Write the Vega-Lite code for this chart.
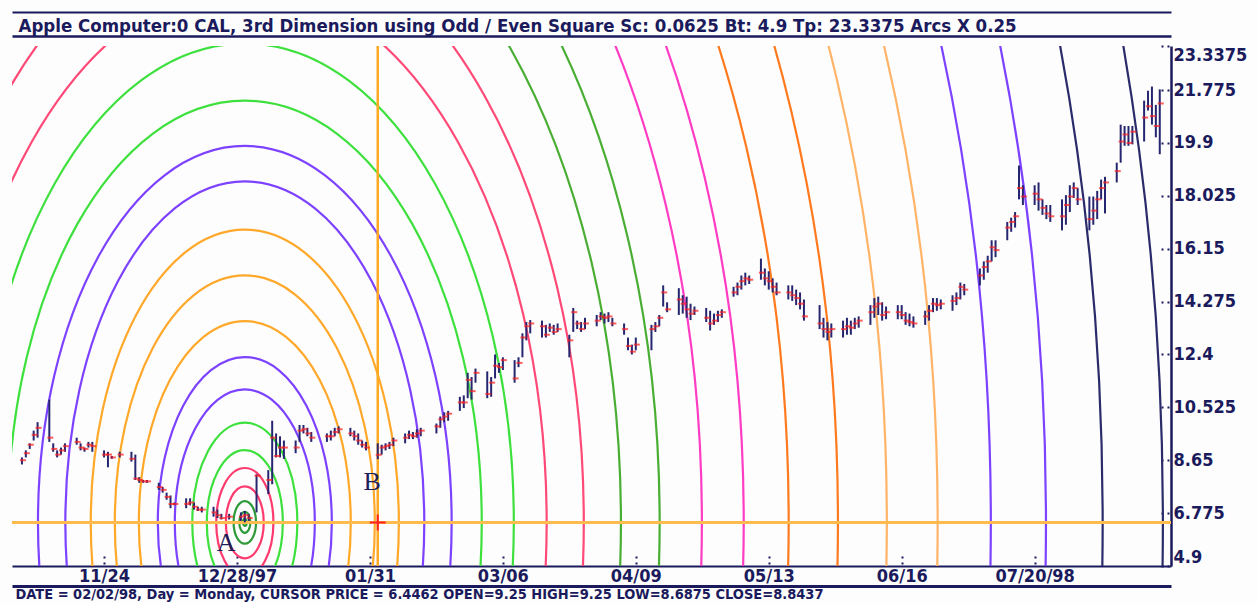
{
  "$schema": "https://vega.github.io/schema/vega-lite/v6.json",
  "width": 1159,
  "height": 520,
  "autosize": {"type": "none"},
  "padding": {"left": 12, "top": 46, "right": 87, "bottom": 37},
  "background": "#fdfdfd",
  "config": {"view": {"stroke": null}},
  "resolve": {"axis": {"x": "independent", "y": "independent"}},
  "datasets": {
    "arcs": [
      {"k": 1, "r": 0.47, "g": "dg", "d": "1997-12-30", "p": 6.4462},
      {"k": 2, "r": 1.41, "g": "dg", "d": "1997-12-30", "p": 6.4462},
      {"k": 3, "r": 2.87, "g": "dg", "d": "1997-12-30", "p": 6.4462},
      {"k": 4, "r": 4.84, "g": "pk", "d": "1997-12-30", "p": 6.4462},
      {"k": 5, "r": 7.32, "g": "pk", "d": "1997-12-30", "p": 6.4462},
      {"k": 6, "r": 9.72, "g": "gr", "d": "1997-12-30", "p": 6.4462},
      {"k": 7, "r": 13.43, "g": "gr", "d": "1997-12-30", "p": 6.4462},
      {"k": 8, "r": 17.9, "g": "pu", "d": "1997-12-30", "p": 6.4462},
      {"k": 9, "r": 22.25, "g": "pu", "d": "1997-12-30", "p": 6.4462},
      {"k": 10, "r": 27.1, "g": "or", "d": "1997-12-30", "p": 6.4462},
      {"k": 11, "r": 33.25, "g": "or", "d": "1997-12-30", "p": 6.4462},
      {"k": 12, "r": 39.4, "g": "or", "d": "1997-12-30", "p": 6.4462},
      {"k": 13, "r": 45.9, "g": "pu", "d": "1997-12-30", "p": 6.4462},
      {"k": 14, "r": 52.9, "g": "pu", "d": "1997-12-30", "p": 6.4462},
      {"k": 15, "r": 60.6, "g": "gr", "d": "1997-12-30", "p": 6.4462},
      {"k": 16, "r": 68.8, "g": "gr", "d": "1997-12-30", "p": 6.4462},
      {"k": 17, "r": 77.2, "g": "rd", "d": "1997-12-30", "p": 6.4462},
      {"k": 18, "r": 86.7, "g": "rd", "d": "1997-12-30", "p": 6.4462},
      {"k": 19, "r": 96.2, "g": "dg2", "d": "1997-12-30", "p": 6.4462},
      {"k": 20, "r": 106.1, "g": "dg2", "d": "1997-12-30", "p": 6.4462},
      {"k": 21, "r": 116.9, "g": "mg", "d": "1997-12-30", "p": 6.4462},
      {"k": 22, "r": 127.6, "g": "mg", "d": "1997-12-30", "p": 6.4462},
      {"k": 23, "r": 139.1, "g": "or2", "d": "1997-12-30", "p": 6.4462},
      {"k": 24, "r": 151.7, "g": "or2", "d": "1997-12-30", "p": 6.4462},
      {"k": 25, "r": 164.2, "g": "lo", "d": "1997-12-30", "p": 6.4462},
      {"k": 26, "r": 177.2, "g": "lo", "d": "1997-12-30", "p": 6.4462},
      {"k": 27, "r": 190.8, "g": "pu", "d": "1997-12-30", "p": 6.4462},
      {"k": 28, "r": 204.9, "g": "pu", "d": "1997-12-30", "p": 6.4462},
      {"k": 29, "r": 219.4, "g": "nv", "d": "1997-12-30", "p": 6.4462},
      {"k": 30, "r": 234.8, "g": "nv", "d": "1997-12-30", "p": 6.4462}
    ],
    "cursor": [{"d": "1998-02-02", "p": 6.4462}],
    "notes": [
      {"d": "1997-12-25T05:00:00Z", "p": 5.72, "t": "A"},
      {"d": "1998-01-31T13:00:00Z", "p": 7.88, "t": "B"}
    ],
    "bars": [
      {"d": "1997-11-03", "h": 8.75, "l": 8.5, "c": 8.65},
      {"d": "1997-11-04", "h": 9.0, "l": 8.75, "c": 8.9},
      {"d": "1997-11-05", "h": 9.25, "l": 9.05, "c": 9.2},
      {"d": "1997-11-06", "h": 9.7, "l": 9.35, "c": 9.55},
      {"d": "1997-11-07", "h": 10.0, "l": 9.45, "c": 9.8},
      {"d": "1997-11-10", "h": 10.8, "l": 9.3, "c": 9.45},
      {"d": "1997-11-11", "h": 9.25, "l": 8.95, "c": 9.05},
      {"d": "1997-11-12", "h": 9.0, "l": 8.75, "c": 8.85},
      {"d": "1997-11-13", "h": 9.1, "l": 8.85, "c": 9.0},
      {"d": "1997-11-14", "h": 9.25, "l": 8.95, "c": 9.15},
      {"d": "1997-11-17", "h": 9.45, "l": 9.2, "c": 9.3},
      {"d": "1997-11-18", "h": 9.25, "l": 9.0, "c": 9.1},
      {"d": "1997-11-19", "h": 9.1, "l": 8.95, "c": 9.05},
      {"d": "1997-11-20", "h": 9.3, "l": 9.1, "c": 9.2},
      {"d": "1997-11-21", "h": 9.3, "l": 8.95, "c": 9.15},
      {"d": "1997-11-24", "h": 9.0, "l": 8.75, "c": 8.85},
      {"d": "1997-11-25", "h": 8.95, "l": 8.4, "c": 8.85},
      {"d": "1997-11-26", "h": 8.8, "l": 8.7, "c": 8.75},
      {"d": "1997-11-28", "h": 8.95, "l": 8.75, "c": 8.85},
      {"d": "1997-12-01", "h": 8.95, "l": 8.6, "c": 8.7},
      {"d": "1997-12-02", "h": 8.85, "l": 7.95, "c": 8.0},
      {"d": "1997-12-03", "h": 8.05, "l": 7.85, "c": 7.95},
      {"d": "1997-12-04", "h": 7.95, "l": 7.85, "c": 7.9},
      {"d": "1997-12-05", "h": 7.95, "l": 7.85, "c": 7.9},
      {"d": "1997-12-08", "h": 7.85, "l": 7.6, "c": 7.7},
      {"d": "1997-12-09", "h": 7.7, "l": 7.5, "c": 7.6},
      {"d": "1997-12-10", "h": 7.5, "l": 7.25, "c": 7.35},
      {"d": "1997-12-11", "h": 7.4, "l": 6.95, "c": 7.1},
      {"d": "1997-12-12", "h": 7.15, "l": 7.05, "c": 7.1},
      {"d": "1997-12-15", "h": 7.3, "l": 6.95, "c": 7.1},
      {"d": "1997-12-16", "h": 7.3, "l": 7.05, "c": 7.15},
      {"d": "1997-12-17", "h": 7.15, "l": 6.9, "c": 7.0},
      {"d": "1997-12-18", "h": 7.0, "l": 6.85, "c": 6.9},
      {"d": "1997-12-19", "h": 7.0, "l": 6.8, "c": 6.9},
      {"d": "1997-12-22", "h": 7.0, "l": 6.65, "c": 6.8},
      {"d": "1997-12-23", "h": 6.9, "l": 6.6, "c": 6.7},
      {"d": "1997-12-24", "h": 6.75, "l": 6.55, "c": 6.6},
      {"d": "1997-12-26", "h": 6.75, "l": 6.55, "c": 6.65},
      {"d": "1997-12-29", "h": 6.8, "l": 6.5, "c": 6.65},
      {"d": "1997-12-30", "h": 6.85, "l": 6.45, "c": 6.7},
      {"d": "1997-12-31", "h": 6.75, "l": 6.5, "c": 6.6},
      {"d": "1998-01-02", "h": 8.15, "l": 6.8, "c": 8.1},
      {"d": "1998-01-05", "h": 8.3, "l": 7.45, "c": 7.95},
      {"d": "1998-01-06", "h": 10.05, "l": 7.8, "c": 9.45},
      {"d": "1998-01-07", "h": 9.6, "l": 8.75, "c": 8.8},
      {"d": "1998-01-08", "h": 9.5, "l": 8.75, "c": 9.1},
      {"d": "1998-01-09", "h": 9.35, "l": 8.7, "c": 9.1},
      {"d": "1998-01-12", "h": 9.35, "l": 8.9, "c": 9.1},
      {"d": "1998-01-13", "h": 9.9, "l": 9.3, "c": 9.7},
      {"d": "1998-01-14", "h": 9.9, "l": 9.6, "c": 9.75},
      {"d": "1998-01-15", "h": 9.8, "l": 9.5, "c": 9.6},
      {"d": "1998-01-16", "h": 9.65, "l": 9.3, "c": 9.45},
      {"d": "1998-01-20", "h": 9.6, "l": 9.3, "c": 9.5},
      {"d": "1998-01-21", "h": 9.7, "l": 9.35, "c": 9.5},
      {"d": "1998-01-22", "h": 9.8, "l": 9.5, "c": 9.65},
      {"d": "1998-01-23", "h": 9.85, "l": 9.6, "c": 9.75},
      {"d": "1998-01-26", "h": 9.8, "l": 9.5, "c": 9.6},
      {"d": "1998-01-27", "h": 9.7, "l": 9.35, "c": 9.5},
      {"d": "1998-01-28", "h": 9.6, "l": 9.2, "c": 9.35},
      {"d": "1998-01-29", "h": 9.35, "l": 9.1, "c": 9.2},
      {"d": "1998-01-30", "h": 9.3, "l": 9.0, "c": 9.1},
      {"d": "1998-02-02", "h": 9.25, "l": 8.6875, "c": 8.8437},
      {"d": "1998-02-03", "h": 9.2, "l": 8.85, "c": 9.1},
      {"d": "1998-02-04", "h": 9.25, "l": 9.0, "c": 9.15},
      {"d": "1998-02-05", "h": 9.3, "l": 9.05, "c": 9.2},
      {"d": "1998-02-06", "h": 9.45, "l": 9.15, "c": 9.35},
      {"d": "1998-02-09", "h": 9.6, "l": 9.25, "c": 9.45},
      {"d": "1998-02-10", "h": 9.7, "l": 9.4, "c": 9.55},
      {"d": "1998-02-11", "h": 9.65, "l": 9.4, "c": 9.5},
      {"d": "1998-02-12", "h": 9.75, "l": 9.45, "c": 9.6},
      {"d": "1998-02-13", "h": 9.8, "l": 9.5, "c": 9.7},
      {"d": "1998-02-17", "h": 9.95, "l": 9.6, "c": 9.85},
      {"d": "1998-02-18", "h": 10.2, "l": 9.8, "c": 10.1},
      {"d": "1998-02-19", "h": 10.35, "l": 10.0, "c": 10.2},
      {"d": "1998-02-20", "h": 10.4, "l": 10.05, "c": 10.3},
      {"d": "1998-02-23", "h": 10.9, "l": 10.4, "c": 10.7},
      {"d": "1998-02-24", "h": 10.95, "l": 10.5, "c": 10.7},
      {"d": "1998-02-25", "h": 11.75, "l": 10.85, "c": 11.5},
      {"d": "1998-02-26", "h": 11.6, "l": 10.8, "c": 11.1},
      {"d": "1998-02-27", "h": 11.9, "l": 11.4, "c": 11.75},
      {"d": "1998-03-02", "h": 11.8, "l": 10.85, "c": 11.0},
      {"d": "1998-03-03", "h": 11.6, "l": 10.9, "c": 11.4},
      {"d": "1998-03-04", "h": 12.4, "l": 11.55, "c": 12.0},
      {"d": "1998-03-05", "h": 12.1, "l": 11.75, "c": 11.95},
      {"d": "1998-03-06", "h": 12.3, "l": 11.85, "c": 12.2},
      {"d": "1998-03-09", "h": 12.2, "l": 11.4, "c": 11.55},
      {"d": "1998-03-10", "h": 12.3, "l": 11.95, "c": 12.1},
      {"d": "1998-03-11", "h": 13.15, "l": 12.3, "c": 13.0},
      {"d": "1998-03-12", "h": 13.55, "l": 12.9, "c": 13.4},
      {"d": "1998-03-13", "h": 13.62, "l": 13.15, "c": 13.5},
      {"d": "1998-03-16", "h": 13.6, "l": 13.0, "c": 13.4},
      {"d": "1998-03-17", "h": 13.45, "l": 13.0, "c": 13.1},
      {"d": "1998-03-18", "h": 13.5, "l": 13.2, "c": 13.35},
      {"d": "1998-03-19", "h": 13.45, "l": 13.1, "c": 13.2},
      {"d": "1998-03-20", "h": 13.5, "l": 13.2, "c": 13.3},
      {"d": "1998-03-23", "h": 13.1, "l": 12.3, "c": 12.9},
      {"d": "1998-03-24", "h": 14.05, "l": 13.2, "c": 13.9},
      {"d": "1998-03-25", "h": 13.6, "l": 13.3, "c": 13.5},
      {"d": "1998-03-26", "h": 13.55, "l": 13.2, "c": 13.3},
      {"d": "1998-03-27", "h": 13.7, "l": 13.3, "c": 13.5},
      {"d": "1998-03-30", "h": 13.8, "l": 13.4, "c": 13.6},
      {"d": "1998-03-31", "h": 13.9, "l": 13.62, "c": 13.75},
      {"d": "1998-04-01", "h": 13.85, "l": 13.5, "c": 13.7},
      {"d": "1998-04-02", "h": 13.9, "l": 13.55, "c": 13.75},
      {"d": "1998-04-03", "h": 13.7, "l": 13.4, "c": 13.5},
      {"d": "1998-04-06", "h": 13.5, "l": 13.1, "c": 13.3},
      {"d": "1998-04-07", "h": 13.0, "l": 12.55, "c": 12.7},
      {"d": "1998-04-08", "h": 12.75, "l": 12.4, "c": 12.5},
      {"d": "1998-04-09", "h": 13.0, "l": 12.55, "c": 12.75},
      {"d": "1998-04-13", "h": 13.45, "l": 12.55, "c": 13.3},
      {"d": "1998-04-14", "h": 13.55, "l": 13.2, "c": 13.4},
      {"d": "1998-04-15", "h": 13.8, "l": 13.4, "c": 13.7},
      {"d": "1998-04-16", "h": 14.85, "l": 14.1, "c": 14.6},
      {"d": "1998-04-17", "h": 14.25, "l": 13.9, "c": 14.0},
      {"d": "1998-04-20", "h": 14.75, "l": 13.8, "c": 14.35},
      {"d": "1998-04-21", "h": 14.5, "l": 13.85, "c": 14.2},
      {"d": "1998-04-22", "h": 14.45, "l": 13.7, "c": 14.0},
      {"d": "1998-04-23", "h": 14.2, "l": 13.62, "c": 13.85},
      {"d": "1998-04-24", "h": 14.1, "l": 13.8, "c": 13.95},
      {"d": "1998-04-27", "h": 14.05, "l": 13.55, "c": 13.7},
      {"d": "1998-04-28", "h": 13.95, "l": 13.25, "c": 13.5},
      {"d": "1998-04-29", "h": 13.85, "l": 13.45, "c": 13.6},
      {"d": "1998-04-30", "h": 13.95, "l": 13.55, "c": 13.8},
      {"d": "1998-05-01", "h": 14.0, "l": 13.7, "c": 13.9},
      {"d": "1998-05-04", "h": 14.8, "l": 14.45, "c": 14.6},
      {"d": "1998-05-05", "h": 14.95, "l": 14.5, "c": 14.8},
      {"d": "1998-05-06", "h": 15.2, "l": 14.7, "c": 15.0},
      {"d": "1998-05-07", "h": 15.3, "l": 14.85, "c": 15.1},
      {"d": "1998-05-08", "h": 15.2, "l": 14.9, "c": 15.05},
      {"d": "1998-05-11", "h": 15.8, "l": 15.05, "c": 15.3},
      {"d": "1998-05-12", "h": 15.45, "l": 14.85, "c": 15.1},
      {"d": "1998-05-13", "h": 15.35, "l": 14.7, "c": 15.0},
      {"d": "1998-05-14", "h": 15.1, "l": 14.6, "c": 14.8},
      {"d": "1998-05-15", "h": 14.95, "l": 14.5, "c": 14.6},
      {"d": "1998-05-18", "h": 14.85, "l": 14.35, "c": 14.6},
      {"d": "1998-05-19", "h": 14.85, "l": 14.3, "c": 14.5},
      {"d": "1998-05-20", "h": 14.7, "l": 14.15, "c": 14.4},
      {"d": "1998-05-21", "h": 14.6, "l": 14.0, "c": 14.2},
      {"d": "1998-05-22", "h": 14.35, "l": 13.6, "c": 13.75},
      {"d": "1998-05-26", "h": 14.15, "l": 13.3, "c": 13.5},
      {"d": "1998-05-27", "h": 13.7, "l": 13.0, "c": 13.3},
      {"d": "1998-05-28", "h": 13.55, "l": 12.9, "c": 13.2},
      {"d": "1998-05-29", "h": 13.5, "l": 13.0, "c": 13.3},
      {"d": "1998-06-01", "h": 13.6, "l": 13.0, "c": 13.3},
      {"d": "1998-06-02", "h": 13.7, "l": 13.1, "c": 13.4},
      {"d": "1998-06-03", "h": 13.6, "l": 13.1, "c": 13.35},
      {"d": "1998-06-04", "h": 13.7, "l": 13.3, "c": 13.5},
      {"d": "1998-06-05", "h": 13.75, "l": 13.35, "c": 13.6},
      {"d": "1998-06-08", "h": 14.15, "l": 13.45, "c": 13.9},
      {"d": "1998-06-09", "h": 14.4, "l": 13.7, "c": 14.1},
      {"d": "1998-06-10", "h": 14.45, "l": 13.8, "c": 14.2},
      {"d": "1998-06-11", "h": 14.25, "l": 13.6, "c": 13.8},
      {"d": "1998-06-12", "h": 14.1, "l": 13.65, "c": 13.9},
      {"d": "1998-06-15", "h": 14.15, "l": 13.65, "c": 13.9},
      {"d": "1998-06-16", "h": 14.15, "l": 13.65, "c": 13.8},
      {"d": "1998-06-17", "h": 13.9, "l": 13.45, "c": 13.6},
      {"d": "1998-06-18", "h": 13.85, "l": 13.4, "c": 13.55},
      {"d": "1998-06-19", "h": 13.75, "l": 13.35, "c": 13.5},
      {"d": "1998-06-22", "h": 13.95, "l": 13.45, "c": 13.75},
      {"d": "1998-06-23", "h": 14.15, "l": 13.6, "c": 13.95},
      {"d": "1998-06-24", "h": 14.4, "l": 13.9, "c": 14.2},
      {"d": "1998-06-25", "h": 14.4, "l": 13.95, "c": 14.15},
      {"d": "1998-06-26", "h": 14.35, "l": 14.0, "c": 14.2},
      {"d": "1998-06-29", "h": 14.5, "l": 13.95, "c": 14.3},
      {"d": "1998-06-30", "h": 14.6, "l": 14.15, "c": 14.4},
      {"d": "1998-07-01", "h": 14.95, "l": 14.35, "c": 14.8},
      {"d": "1998-07-02", "h": 14.9, "l": 14.5, "c": 14.7},
      {"d": "1998-07-06", "h": 15.45, "l": 14.85, "c": 15.2},
      {"d": "1998-07-07", "h": 15.7, "l": 15.05, "c": 15.5},
      {"d": "1998-07-08", "h": 15.9, "l": 15.3, "c": 15.7},
      {"d": "1998-07-09", "h": 16.45, "l": 15.7, "c": 16.2},
      {"d": "1998-07-10", "h": 16.45, "l": 15.85, "c": 16.1},
      {"d": "1998-07-13", "h": 17.1, "l": 16.45, "c": 16.9},
      {"d": "1998-07-14", "h": 17.25, "l": 16.75, "c": 17.1},
      {"d": "1998-07-15", "h": 17.45, "l": 16.9, "c": 17.3},
      {"d": "1998-07-16", "h": 19.1, "l": 17.9, "c": 18.3},
      {"d": "1998-07-17", "h": 18.4, "l": 17.7, "c": 18.0},
      {"d": "1998-07-20", "h": 18.4, "l": 17.7, "c": 18.1},
      {"d": "1998-07-21", "h": 18.5, "l": 17.5, "c": 17.9},
      {"d": "1998-07-22", "h": 17.9, "l": 17.35, "c": 17.6},
      {"d": "1998-07-23", "h": 17.7, "l": 17.2, "c": 17.4},
      {"d": "1998-07-24", "h": 17.7, "l": 17.1, "c": 17.3},
      {"d": "1998-07-27", "h": 17.9, "l": 16.8, "c": 17.3},
      {"d": "1998-07-28", "h": 18.05, "l": 17.0, "c": 17.7},
      {"d": "1998-07-29", "h": 18.4, "l": 17.45, "c": 18.0},
      {"d": "1998-07-30", "h": 18.5, "l": 17.95, "c": 18.3},
      {"d": "1998-07-31", "h": 18.3, "l": 17.7, "c": 17.9},
      {"d": "1998-08-03", "h": 18.0, "l": 16.8, "c": 17.2},
      {"d": "1998-08-04", "h": 18.0, "l": 17.0, "c": 17.5},
      {"d": "1998-08-05", "h": 18.2, "l": 17.2, "c": 17.9},
      {"d": "1998-08-06", "h": 18.6, "l": 17.9, "c": 18.3},
      {"d": "1998-08-07", "h": 18.7, "l": 17.4, "c": 18.5},
      {"d": "1998-08-10", "h": 19.2, "l": 18.5, "c": 18.9},
      {"d": "1998-08-11", "h": 20.55, "l": 19.2, "c": 19.95},
      {"d": "1998-08-12", "h": 20.5, "l": 19.8, "c": 20.2},
      {"d": "1998-08-13", "h": 20.5, "l": 19.8, "c": 19.9},
      {"d": "1998-08-14", "h": 20.5, "l": 19.85, "c": 20.3},
      {"d": "1998-08-17", "h": 21.4, "l": 19.95, "c": 20.8},
      {"d": "1998-08-18", "h": 21.75, "l": 21.05, "c": 21.2},
      {"d": "1998-08-19", "h": 21.9, "l": 20.55, "c": 20.85},
      {"d": "1998-08-20", "h": 21.25, "l": 20.1, "c": 20.5},
      {"d": "1998-08-21", "h": 21.8, "l": 19.5, "c": 21.3}
    ]
  },
  "layer": [
    {
      "data": {"name": "arcs"},
      "mark": {
        "type": "point",
        "filled": false,
        "strokeWidth": 2.2,
        "opacity": 1,
        "clip": true
      },
      "encoding": {
        "x": {
          "field": "d", "type": "temporal", "axis": null,
          "scale": {
            "type": "utc",
            "domain": [
              {"year": 1997, "month": 10, "date": 31, "hours": 11, "utc": true},
              {"year": 1998, "month": 8, "date": 23, "hours": 21, "utc": true}
            ]
          }
        },
        "y": {
          "field": "p", "type": "quantitative", "axis": null,
          "scale": {"domain": [4.9, 23.3375], "zero": false, "nice": false}
        },
        "size": {
          "field": "r", "type": "quantitative", "legend": null,
          "scale": {"type": "pow", "exponent": 2, "domain": [0, 250], "range": [0, 3822063]}
        },
        "shape": {
          "field": "k", "type": "ordinal", "legend": null,
          "scale": {
            "domain": [1, 2, 3, 4, 5, 6, 7, 8, 9, 10, 11, 12, 13, 14, 15, 16, 17, 18, 19, 20, 21, 22, 23, 24, 25, 26, 27, 28, 29, 30],
            "range": [
              "M -1 0 C -1 -1.0494 -0.5523 -1.9 0 -1.9 C 0.5523 -1.9 1 -1.0494 1 0 C 1 1.0494 0.5523 1.9 0 1.9 C -0.5523 1.9 -1 1.0494 -1 0 Z",
              "M -1 0 C -1 -1.0494 -0.5523 -1.9 0 -1.9 C 0.5523 -1.9 1 -1.0494 1 0 C 1 1.0494 0.5523 1.9 0 1.9 C -0.5523 1.9 -1 1.0494 -1 0 Z",
              "M -1 0 C -1 -1.0494 -0.5523 -1.9 0 -1.9 C 0.5523 -1.9 1 -1.0494 1 0 C 1 1.0494 0.5523 1.9 0 1.9 C -0.5523 1.9 -1 1.0494 -1 0 Z",
              "M -1 0 C -1 -1.0494 -0.5523 -1.9 0 -1.9 C 0.5523 -1.9 1 -1.0494 1 0 C 1 1.0494 0.5523 1.9 0 1.9 C -0.5523 1.9 -1 1.0494 -1 0 Z",
              "M -1 0 C -1 -1.0494 -0.5523 -1.9 0 -1.9 C 0.5523 -1.9 1 -1.0494 1 0 C 1 1.0494 0.5523 1.9 0 1.9 C -0.5523 1.9 -1 1.0494 -1 0 Z",
              "M -1 0 C -1 -1.0494 -0.5523 -1.9 0 -1.9 C 0.5523 -1.9 1 -1.0494 1 0 C 1 1.0494 0.5523 1.9 0 1.9 C -0.5523 1.9 -1 1.0494 -1 0 Z",
              "M -1 0 C -1 -1.0494 -0.5523 -1.9 0 -1.9 C 0.5523 -1.9 1 -1.0494 1 0 C 1 1.0494 0.5523 1.9 0 1.9 C -0.5523 1.9 -1 1.0494 -1 0 Z",
              "M -1 0 C -1 -1.0494 -0.5523 -1.9 0 -1.9 C 0.5523 -1.9 1 -1.0494 1 0 C 1 1.0494 0.5523 1.9 0 1.9 C -0.5523 1.9 -1 1.0494 -1 0 Z",
              "M -1 0 C -1 -1.0494 -0.5523 -1.9 0 -1.9 C 0.5523 -1.9 1 -1.0494 1 0 C 1 1.0494 0.5523 1.9 0 1.9 C -0.5523 1.9 -1 1.0494 -1 0 Z",
              "M -1 0 C -1 -1.0494 -0.5523 -1.9 0 -1.9 C 0.5523 -1.9 1 -1.0494 1 0 C 1 1.0494 0.5523 1.9 0 1.9 C -0.5523 1.9 -1 1.0494 -1 0 Z",
              "M -1 0 C -1 -1.0494 -0.5523 -1.9 0 -1.9 C 0.5523 -1.9 1 -1.0494 1 0 C 1 1.0494 0.5523 1.9 0 1.9 C -0.5523 1.9 -1 1.0494 -1 0 Z",
              "M -1 0 C -1 -1.0494 -0.5523 -1.9 0 -1.9 C 0.5523 -1.9 1 -1.0494 1 0 C 1 1.0494 0.5523 1.9 0 1.9 C -0.5523 1.9 -1 1.0494 -1 0 Z",
              "M -1 0 C -1 -1.0494 -0.5523 -1.9 0 -1.9 C 0.5523 -1.9 1 -1.0494 1 0 C 1 1.0494 0.5523 1.9 0 1.9 C -0.5523 1.9 -1 1.0494 -1 0 Z",
              "M -1 0 C -1 -1.0052 -0.5523 -1.82 0 -1.82 C 0.5523 -1.82 1 -1.0052 1 0 C 1 1.0052 0.5523 1.82 0 1.82 C -0.5523 1.82 -1 1.0052 -1 0 Z",
              "M -1 0 C -1 -0.9831 -0.5523 -1.78 0 -1.78 C 0.5523 -1.78 1 -0.9831 1 0 C 1 0.9831 0.5523 1.78 0 1.78 C -0.5523 1.78 -1 0.9831 -1 0 Z",
              "M -1 0 C -1 -0.9831 -0.5523 -1.78 0 -1.78 C 0.5523 -1.78 1 -0.9831 1 0 C 1 0.9831 0.5523 1.78 0 1.78 C -0.5523 1.78 -1 0.9831 -1 0 Z",
              "M -1 0 C -1 -0.9831 -0.5523 -1.78 0 -1.78 C 0.5523 -1.78 1 -0.9831 1 0 C 1 0.9831 0.5523 1.78 0 1.78 C -0.5523 1.78 -1 0.9831 -1 0 Z",
              "M -1 0 C -1 -0.9831 -0.5523 -1.78 0 -1.78 C 0.5523 -1.78 1 -0.9831 1 0 C 1 0.9831 0.5523 1.78 0 1.78 C -0.5523 1.78 -1 0.9831 -1 0 Z",
              "M -1 0 C -1 -0.9831 -0.5523 -1.78 0 -1.78 C 0.5523 -1.78 1 -0.9831 1 0 C 1 0.9831 0.5523 1.78 0 1.78 C -0.5523 1.78 -1 0.9831 -1 0 Z",
              "M -1 0 C -1 -0.9831 -0.5523 -1.78 0 -1.78 C 0.5523 -1.78 1 -0.9831 1 0 C 1 0.9831 0.5523 1.78 0 1.78 C -0.5523 1.78 -1 0.9831 -1 0 Z",
              "M -1 0 C -1 -0.9831 -0.5523 -1.78 0 -1.78 C 0.5523 -1.78 1 -0.9831 1 0 C 1 0.9831 0.5523 1.78 0 1.78 C -0.5523 1.78 -1 0.9831 -1 0 Z",
              "M -1 0 C -1 -0.9831 -0.5523 -1.78 0 -1.78 C 0.5523 -1.78 1 -0.9831 1 0 C 1 0.9831 0.5523 1.78 0 1.78 C -0.5523 1.78 -1 0.9831 -1 0 Z",
              "M -1 0 C -1 -0.9831 -0.5523 -1.78 0 -1.78 C 0.5523 -1.78 1 -0.9831 1 0 C 1 0.9831 0.5523 1.78 0 1.78 C -0.5523 1.78 -1 0.9831 -1 0 Z",
              "M -1 0 C -1 -0.9831 -0.5523 -1.78 0 -1.78 C 0.5523 -1.78 1 -0.9831 1 0 C 1 0.9831 0.5523 1.78 0 1.78 C -0.5523 1.78 -1 0.9831 -1 0 Z",
              "M -1 0 C -1 -0.9831 -0.5523 -1.78 0 -1.78 C 0.5523 -1.78 1 -0.9831 1 0 C 1 0.9831 0.5523 1.78 0 1.78 C -0.5523 1.78 -1 0.9831 -1 0 Z",
              "M -1 0 C -1 -0.9831 -0.5523 -1.78 0 -1.78 C 0.5523 -1.78 1 -0.9831 1 0 C 1 0.9831 0.5523 1.78 0 1.78 C -0.5523 1.78 -1 0.9831 -1 0 Z",
              "M -1 0 C -1 -0.9831 -0.5523 -1.78 0 -1.78 C 0.5523 -1.78 1 -0.9831 1 0 C 1 0.9831 0.5523 1.78 0 1.78 C -0.5523 1.78 -1 0.9831 -1 0 Z",
              "M -1 0 C -1 -0.9831 -0.5523 -1.78 0 -1.78 C 0.5523 -1.78 1 -0.9831 1 0 C 1 0.9831 0.5523 1.78 0 1.78 C -0.5523 1.78 -1 0.9831 -1 0 Z",
              "M -1 0 C -1 -0.9831 -0.5523 -1.78 0 -1.78 C 0.5523 -1.78 1 -0.9831 1 0 C 1 0.9831 0.5523 1.78 0 1.78 C -0.5523 1.78 -1 0.9831 -1 0 Z",
              "M -1 0 C -1 -0.9831 -0.5523 -1.78 0 -1.78 C 0.5523 -1.78 1 -0.9831 1 0 C 1 0.9831 0.5523 1.78 0 1.78 C -0.5523 1.78 -1 0.9831 -1 0 Z"
            ]
          }
        },
        "color": {
          "field": "g", "type": "nominal", "legend": null,
          "scale": {
            "domain": ["dg", "pk", "gr", "pu", "or", "rd", "dg2", "mg", "or2", "lo", "nv"],
            "range": ["#2f9a3a", "#ff3a6e", "#3ee03e", "#7d42ff", "#ffa82a", "#ff4a78", "#4aae34", "#ff3cc4", "#ff7a1e", "#ffb468", "#2b2b6b"]
          }
        }
      }
    },
    {
      "data": {"name": "cursor"},
      "mark": {"type": "rule", "color": "#ffbb4d", "strokeWidth": 3},
      "encoding": {
        "y": {
          "field": "p", "type": "quantitative",
          "axis": {
            "orient": "right",
            "values": [4.9, 6.775, 8.65, 10.525, 12.4, 14.275, 16.15, 18.025, 19.9, 21.775, 23.3375],
            "format": ".6~f",
            "labelOverlap": false, "labelFlush": true, "labelBound": false,
            "labelFont": "DejaVu Sans Condensed", "labelFontWeight": "bold", "labelFontSize": 18,
            "labelColor": "#1a1a5c", "labelPadding": 14,
            "tickSize": -12, "tickColor": "#1a1a5c", "tickWidth": 2, "tickDash": [2, 4], "tickDashOffset": 4,
            "domainColor": "#1a1a5c", "domainWidth": 2.5, "grid": false, "title": null
          }
        }
      }
    },
    {
      "data": {"name": "cursor"},
      "mark": {"type": "rule", "color": "#ffaa22", "strokeWidth": 2.5},
      "encoding": {
        "x": {
          "field": "d", "type": "temporal",
          "axis": {
            "orient": "top", "offset": 10, "labels": false, "ticks": false, "grid": false,
            "domainColor": "#1a1a5c", "domainWidth": 2.5,
            "title": "Apple Computer:0 CAL, 3rd Dimension using Odd / Even Square Sc: 0.0625 Bt: 4.9 Tp: 23.3375 Arcs X 0.25",
            "titleAnchor": "start", "titleAlign": "left", "titleX": 6, "titlePadding": 1,
            "titleFont": "DejaVu Sans Condensed", "titleFontWeight": "bold", "titleFontSize": 18.5,
            "titleColor": "#1a1a5c", "titleLimit": 2000
          }
        }
      }
    },
    {
      "data": {"name": "bars"},
      "mark": {"type": "rule", "color": "#262670", "strokeWidth": 2},
      "encoding": {
        "x": {
          "field": "d", "type": "temporal",
          "axis": {
            "orient": "bottom",
            "values": [
              {"year": 1997, "month": 11, "date": 24, "utc": true},
              {"year": 1997, "month": 12, "date": 28, "utc": true},
              {"year": 1998, "month": 1, "date": 31, "utc": true},
              {"year": 1998, "month": 3, "date": 6, "utc": true},
              {"year": 1998, "month": 4, "date": 9, "utc": true},
              {"year": 1998, "month": 5, "date": 13, "utc": true},
              {"year": 1998, "month": 6, "date": 16, "utc": true},
              {"year": 1998, "month": 7, "date": 20, "utc": true}
            ],
            "labelExpr": "(utcmonth(datum.value) == 11 || utcmonth(datum.value) == 6) ? utcFormat(datum.value, '%m/%d/%y') : utcFormat(datum.value, '%m/%d')",
            "labelFont": "DejaVu Sans Condensed", "labelFontWeight": "bold", "labelFontSize": 18,
            "labelColor": "#1a1a5c", "labelOverlap": false, "labelFlush": false, "labelPadding": 13,
            "tickSize": -12, "tickColor": "#1a1a5c", "tickWidth": 2, "tickDash": [2, 4], "tickDashOffset": 4,
            "domainColor": "#1a1a5c", "domainWidth": 2, "grid": false,
            "title": "DATE = 02/02/98, Day = Monday, CURSOR PRICE = 6.4462 OPEN=9.25 HIGH=9.25 LOW=8.6875 CLOSE=8.8437",
            "titleAnchor": "start", "titleAlign": "left", "titleX": 3, "titlePadding": 2,
            "titleFont": "DejaVu Sans Condensed", "titleFontWeight": "bold", "titleFontSize": 14.5,
            "titleColor": "#1a1a5c", "titleLimit": 2000
          }
        },
        "y": {"field": "l", "type": "quantitative", "axis": null},
        "y2": {"field": "h"}
      }
    },
    {
      "data": {"name": "bars"},
      "mark": {"type": "tick", "orient": "horizontal", "color": "#ff1e1e", "thickness": 2, "size": 6, "xOffset": 1},
      "encoding": {
        "x": {
          "field": "d", "type": "temporal",
          "axis": {"orient": "bottom", "offset": 20, "labels": false, "ticks": false, "grid": false, "domainColor": "#1a1a5c", "domainWidth": 3, "title": null}
        },
        "y": {"field": "c", "type": "quantitative", "axis": null}
      }
    },
    {
      "data": {"name": "cursor"},
      "mark": {"type": "point", "shape": "M -1 0 L 1 0 M 0 -1 L 0 1", "filled": false, "color": "#ff2020", "strokeWidth": 2, "size": 256, "opacity": 1},
      "encoding": {
        "x": {
          "field": "d", "type": "temporal",
          "axis": {"orient": "top", "offset": 34, "labels": false, "ticks": false, "grid": false, "domainColor": "#1a1a5c", "domainWidth": 2, "title": null}
        },
        "y": {"field": "p", "type": "quantitative", "axis": null}
      }
    },
    {
      "data": {"name": "notes"},
      "mark": {"type": "text", "font": "Liberation Serif", "fontSize": 26, "color": "#1e1e5e", "align": "center", "baseline": "middle"},
      "encoding": {
        "x": {"field": "d", "type": "temporal", "axis": null},
        "y": {"field": "p", "type": "quantitative", "axis": null},
        "text": {"field": "t"}
      }
    }
  ]
}
